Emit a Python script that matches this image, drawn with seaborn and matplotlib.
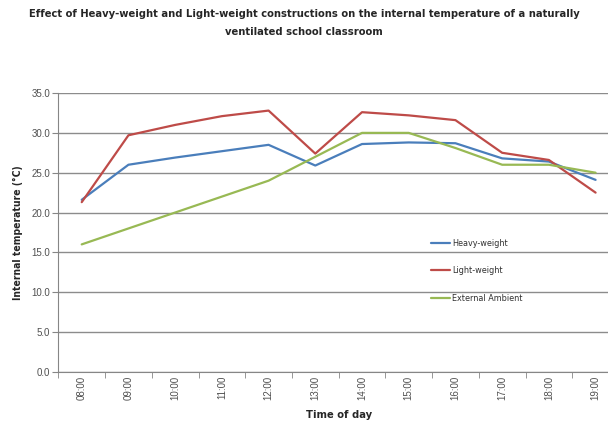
import pandas as pd
import matplotlib.pyplot as plt
import seaborn as sns
from matplotlib.ticker import FixedLocator
from matplotlib import font_manager

# data
times = ['08:00', '09:00', '10:00', '11:00', '12:00', '13:00',
         '14:00', '15:00', '16:00', '17:00', '18:00', '19:00']
heavy = [21.6, 26.0, 26.9, 27.7, 28.5, 25.9, 28.6, 28.8, 28.7, 26.8, 26.4, 24.1]
light = [21.3, 29.7, 31.0, 32.1, 32.8, 27.4, 32.6, 32.2, 31.6, 27.5, 26.6, 22.5]
ambient = [16.0, 18.0, 20.0, 22.0, 24.0, 27.0, 30.0, 30.0, 28.1, 26.0, 26.0, 25.0]

series = {'Heavy-weight': heavy, 'Light-weight': light, 'External Ambient': ambient}
colors = {'Heavy-weight': '#4a7ebb', 'Light-weight': '#be4b48', 'External Ambient': '#98b954'}

rows = []
for name, vals in series.items():
    for i, v in enumerate(vals):
        rows.append({'pos': i, 'time': times[i], 'temp': v, 'series': name})
df = pd.DataFrame(rows)

sns.set_style('white')
plt.rcParams['font.family'] = ['Liberation Sans', 'DejaVu Sans']

fig = plt.figure(figsize=(6.08, 4.23), dpi=100)
ax = fig.add_axes([0.096, 0.121, 0.922, 0.659])

sns.lineplot(data=df, x='pos', y='temp', hue='series', palette=colors,
             linewidth=1.6, ax=ax, legend=True)

ax.set_xlim(-0.5, len(times) - 0.5)
ax.set_ylim(0, 35)
ax.set_yticks([0, 5, 10, 15, 20, 25, 30, 35])
ax.set_yticklabels([f'{v:.1f}' for v in ax.get_yticks()], fontsize=7, color='#505050')
ax.set_xticks(range(len(times)))
ax.set_xticklabels(times, rotation=90, fontsize=7, color='#505050')
ax.xaxis.set_minor_locator(FixedLocator([i - 0.5 for i in range(len(times) + 1)]))
ax.tick_params(axis='x', which='major', length=0, pad=3)
ax.tick_params(axis='x', which='minor', length=4, color='#868686', direction='out', bottom=True)
ax.tick_params(axis='y', length=4, color='#868686', direction='out', left=True, pad=2)

ax.grid(axis='y', color='#8c8c8c', linewidth=1)
ax.set_axisbelow(True)
for side in ['top', 'right']:
    ax.spines[side].set_visible(False)
for side in ['left', 'bottom']:
    ax.spines[side].set_color('#868686')

cond = dict(family='DejaVu Sans', stretch='condensed')
ax.set_xlabel('Time of day', fontproperties=font_manager.FontProperties(weight='bold', size=8, **cond),
              labelpad=7)
ax.set_ylabel('Internal temperature (°C)', fontproperties=font_manager.FontProperties(weight='bold', size=7.5, **cond),
              labelpad=6)

leg = ax.legend(loc='upper left', bbox_to_anchor=(0.65, 0.506), frameon=False,
                prop=font_manager.FontProperties(size=6.5, **cond),
                labelspacing=2.05, handlelength=2.1, handletextpad=0.25)
for t in leg.get_texts():
    t.set_color('#303030')

title_font = font_manager.FontProperties(weight='bold', size=8, **cond)
fig.text(0.5, 0.978, 'Effect of Heavy-weight and Light-weight constructions on the internal temperature of a naturally\n'
         'ventilated school classroom', ha='center', va='top', fontproperties=title_font,
         linespacing=2.0)

plt.savefig('out.png', dpi=100)
